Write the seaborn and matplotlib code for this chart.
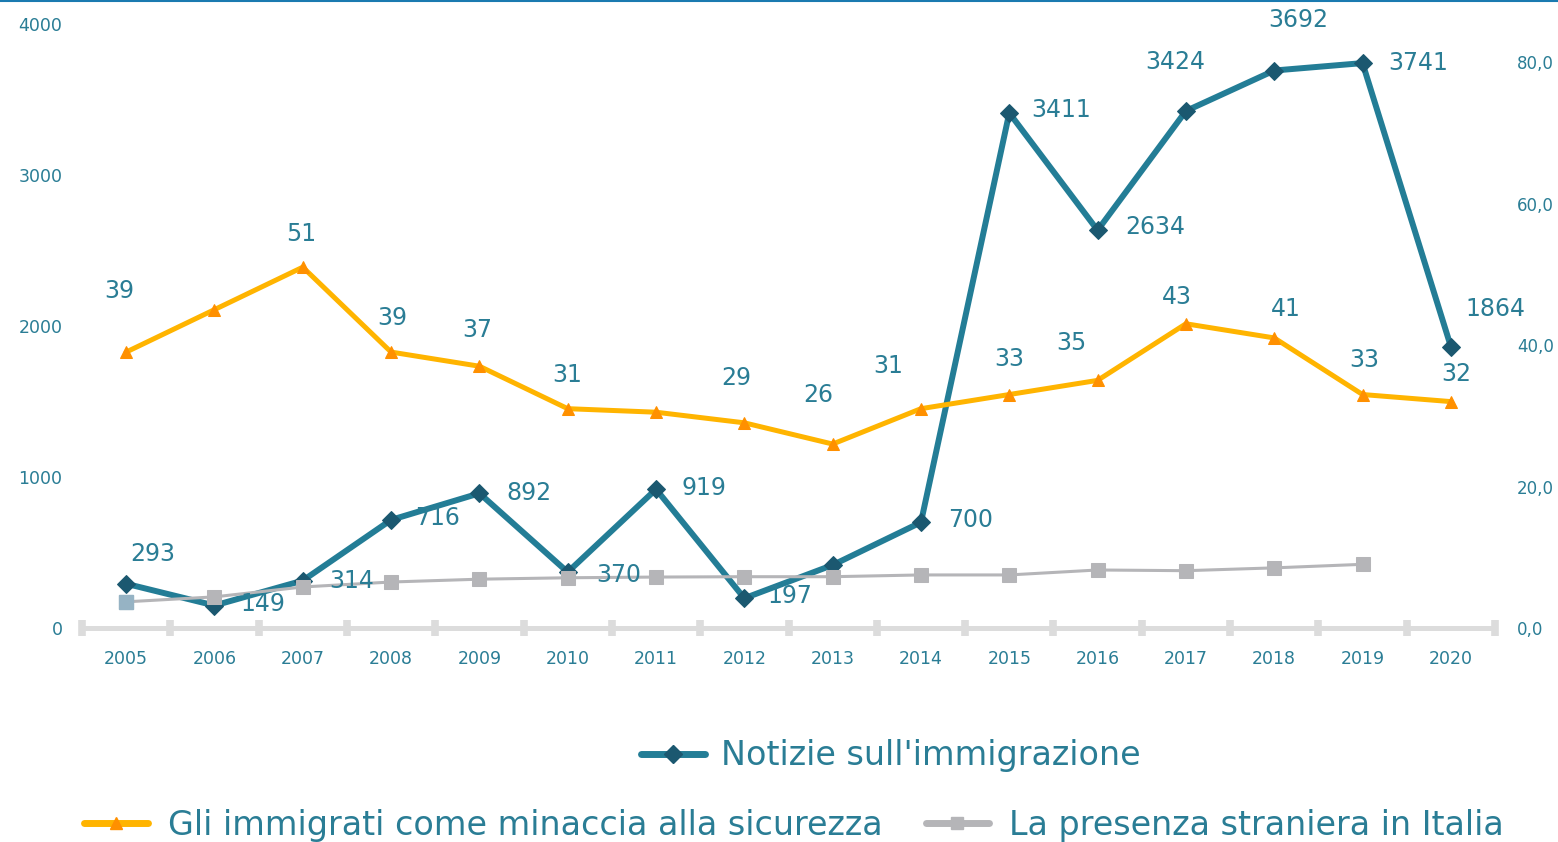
import matplotlib
matplotlib.use("Agg")
import matplotlib.pyplot as plt
from matplotlib.lines import Line2D
from matplotlib.ticker import FixedLocator, FuncFormatter
import seaborn as sns
import pandas as pd

# data
anni = [2005, 2006, 2007, 2008, 2009, 2010, 2011, 2012,
        2013, 2014, 2015, 2016, 2017, 2018, 2019, 2020]
notizie = [293, 149, 314, 716, 892, 370, 919, 197,
           417, 700, 3411, 2634, 3424, 3692, 3741, 1864]
minaccia = [39, 45, 51, 39, 37, 31, 30.5, 29,
            26, 31, 33, 35, 43, 41, 33, 32]
anni_presenza = anni[:-1]
presenza = [3.7, 4.4, 5.8, 6.5, 6.9, 7.1, 7.2, 7.25,
            7.25, 7.5, 7.5, 8.2, 8.1, 8.5, 9.0]

nome_notizie = "Notizie sull'immigrazione"
nome_minaccia = "Gli immigrati come minaccia alla sicurezza"
nome_presenza = "La presenza straniera in Italia"

# label offsets in pixels (None = no label)
off_notizie = [(27, 30), (48, 2), (49, 0), (46, 2), (50, 0), (51, -3), (48, 1), (46, 2),
               None, (50, 2), (52, 3), (58, 3), (-11, 49), (24, 51), (56, 0), (45, 38)]
off_minaccia = [(-7, 61), None, (-2, 33), (1, 34), (-2, 36), (-1, 34), None, (-8, 45),
                (-14, 49), (-33, 43), (0, 36), (-26, 37), (-9, 27), (12, 29), (2, 35), (5, 28)]

TEAL = "#237d96"
TEAL_DARK = "#1b5870"
TEXT = "#2a7d95"
ORANGE = "#ffb400"
ORANGE_DARK = "#ff9000"
GREY = "#b5b5b8"
AXIS_GREY = "#dcdcdc"

sns.set_style("white")
plt.rcParams["font.family"] = ["DejaVu Sans"]

df1 = pd.DataFrame({"anno": anni, "notizie": notizie, "minaccia": minaccia})
df2 = pd.DataFrame({"anno": anni_presenza, "presenza": presenza})

W, H = 1558, 842
fig = plt.figure(figsize=(W / 100, H / 100), dpi=100)
ax1 = fig.add_axes([82 / W, 1 - 628 / H, (1495 - 82) / W, (628 - 24) / H])
ax2 = ax1.twinx()

sns.lineplot(data=df1, x="anno", y="notizie", ax=ax1, color=TEAL, linewidth=4.3,
             marker="D", markersize=9, markerfacecolor=TEAL_DARK,
             markeredgecolor=TEAL_DARK, label=nome_notizie, legend=False)
sns.lineplot(data=df1, x="anno", y="minaccia", ax=ax2, color=ORANGE, linewidth=3.6,
             marker="^", markersize=8, markerfacecolor=ORANGE_DARK,
             markeredgecolor=ORANGE_DARK, label=nome_minaccia, legend=False)
sns.lineplot(data=df2, x="anno", y="presenza", ax=ax2, color=GREY, linewidth=2.2,
             marker="s", markersize=10, markerfacecolor=GREY,
             markeredgecolor=GREY, label=nome_presenza, legend=False)
# first grey marker is bluish in the original
ax2.plot(anni_presenza[0], presenza[0], "s", markersize=10, color="#96b3c4")

ax1.set_xlim(anni[0] - 0.5, anni[-1] + 0.5)
ax1.set_ylim(0, 4000)
ax2.set_ylim(0, 80 * 604 / 566)
ax1.set_xlabel("")
ax1.set_ylabel("")
ax2.set_ylabel("")

ax1.set_yticks([0, 1000, 2000, 3000, 4000])
ax2.set_yticks([0, 20, 40, 60, 80])
ax2.yaxis.set_major_formatter(FuncFormatter(lambda v, p: f"{v:.1f}".replace(".", ",")))

ax1.set_xticks(anni)
ax1.xaxis.set_minor_locator(FixedLocator([a - 0.5 for a in anni] + [anni[-1] + 0.5]))
ax1.tick_params(axis="x", which="major", bottom=True, length=0, pad=16, labelsize=12.5,
                labelcolor=TEXT)
ax1.tick_params(axis="x", which="minor", bottom=True, direction="inout", length=11,
                width=5.5, color=AXIS_GREY)
ax1.tick_params(axis="y", length=0, pad=14, labelsize=12.5, labelcolor=TEXT)
ax2.tick_params(axis="y", length=0, pad=16, labelsize=12, labelcolor=TEXT)

for ax in (ax1, ax2):
    for s in ax.spines.values():
        s.set_visible(False)
ax1.spines["bottom"].set_visible(True)
ax1.spines["bottom"].set_color(AXIS_GREY)
ax1.spines["bottom"].set_linewidth(3.6)
ax1.grid(False)
ax2.grid(False)

for a, v, off in zip(anni, notizie, off_notizie):
    if off is None:
        continue
    ax2.annotate(str(v), xy=(a, v), xycoords=ax1.transData, xytext=off,
                 textcoords="offset pixels", ha="center", va="center",
                 fontsize=17, color=TEXT)
for a, v, off in zip(anni, minaccia, off_minaccia):
    if off is None:
        continue
    ax2.annotate(str(int(round(v))), xy=(a, v), xytext=off,
                 textcoords="offset pixels", ha="center", va="center",
                 fontsize=17, color=TEXT)

# legend
h_not = Line2D([], [], color=TEAL, linewidth=5, marker="D", markersize=9,
               markerfacecolor=TEAL_DARK, markeredgecolor=TEAL_DARK)
h_min = Line2D([], [], color=ORANGE, linewidth=5, marker="^", markersize=9,
               markerfacecolor=ORANGE_DARK, markeredgecolor=ORANGE_DARK)
h_pre = Line2D([], [], color=GREY, linewidth=5, marker="s", markersize=9,
               markerfacecolor=GREY, markeredgecolor=GREY)
fig.legend([h_not], [nome_notizie], loc="center", bbox_to_anchor=(891 / W, 1 - 756 / H),
           frameon=False, fontsize=24, labelcolor=TEXT, handlelength=1.9,
           handletextpad=0.5, numpoints=1)
fig.legend([h_min, h_pre], [nome_minaccia, nome_presenza], loc="center", ncol=2,
           bbox_to_anchor=(794 / W, 1 - 825 / H), frameon=False, fontsize=24,
           labelcolor=TEXT, handlelength=1.9, handletextpad=0.6, columnspacing=1.3,
           numpoints=1)

# thin line at top
fig.add_artist(Line2D([0, 1], [1 - 1 / H, 1 - 1 / H], color="#1a7ab0", linewidth=1.5,
                      transform=fig.transFigure))

fig.savefig("out.png", dpi=100, facecolor="white")
